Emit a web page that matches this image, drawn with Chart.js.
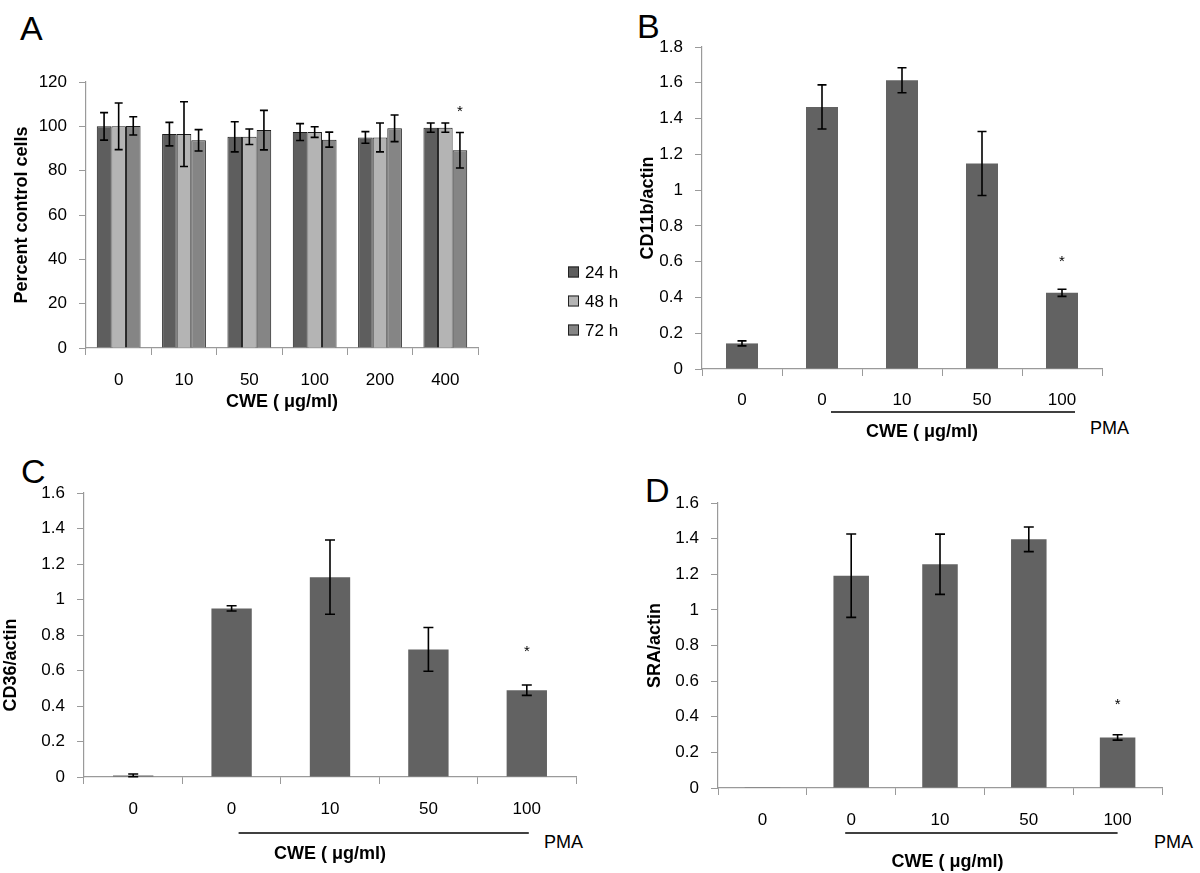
<!DOCTYPE html>
<html>
<head>
<meta charset="utf-8">
<script src="https://cdn.jsdelivr.net/npm/chart.js@4.4.1/dist/chart.umd.min.js"></script>
<style>
  html, body { margin: 0; padding: 0; background: #fff; }
  body { width: 1200px; height: 873px; position: relative; overflow: hidden;
         font-family: "Liberation Sans", Arial, sans-serif; }
  canvas { position: absolute; }
  .letter { position: absolute; font-size: 34px; line-height: 1; color: #000; }
  .pma { position: absolute; font-size: 18px; line-height: 1; color: #000; }
</style>
</head>
<body>
<div class="letter" style="left:20px;top:11px">A</div>
<div class="letter" style="left:637px;top:9px">B</div>
<div class="letter" style="left:21px;top:454px">C</div>
<div class="letter" style="left:645px;top:473px">D</div>
<div class="pma" style="left:1090px;top:419px">PMA</div>
<div class="pma" style="left:544px;top:833px">PMA</div>
<div class="pma" style="left:1154px;top:833px">PMA</div>

<canvas id="chartA" width="640" height="450" style="left:0;top:0"></canvas>
<canvas id="chartB" width="600" height="450" style="left:600px;top:0"></canvas>
<canvas id="chartC" width="600" height="433" style="left:0;top:440px"></canvas>
<canvas id="chartD" width="600" height="433" style="left:600px;top:440px"></canvas>

<script>
// ---- data ----
const doseA = ["0", "10", "50", "100", "200", "400"];
const viability24h = [100, 96.5, 95.3, 97.4, 95.0, 99.4];
const viability24hErr = [6.2, 5.3, 6.8, 3.8, 2.6, 2.1];
const viability48h = [100, 96.5, 95.3, 97.4, 95.0, 99.4];
const viability48hErr = [10.5, 14.6, 3.5, 2.4, 6.5, 2.1];
const viability72h = [100.2, 93.7, 98.3, 94.0, 99.1, 89.2];
const viability72hErr = [4.1, 4.8, 8.9, 3.4, 6.0, 8.0];
const viabilityStar72h = [null, null, null, null, null, 108.6];

const doseMarkers = ["0", "0", "10", "50", "100"];

const cd11b = [0.143, 1.465, 1.614, 1.149, 0.426];
const cd11bErr = [0.014, 0.123, 0.07, 0.179, 0.02];
const cd11bStar = [null, null, null, null, 0.626];

const cd36 = [0.009, 0.95, 1.126, 0.719, 0.489];
const cd36Err = [0.008, 0.015, 0.209, 0.123, 0.029];
const cd36Star = [null, null, null, null, 0.73];

const sra = [0.004, 1.192, 1.256, 1.396, 0.284];
const sraErr = [0, 0.234, 0.169, 0.069, 0.015];
const sraStar = [null, null, null, null, 0.49];

const xTitle = "CWE ( \u03bcg/ml)";

Chart.defaults.font.family = '"Liberation Sans", Arial, sans-serif';
Chart.defaults.color = "#000";

const AXIS_GREY = "#9a9a9a";

// error bars + significance stars, positioned through the y scale
const errorBarPlugin = {
  id: "errorBars",
  afterDatasetsDraw(chart, args, opts) {
    const { ctx } = chart;
    const yScale = chart.scales.y;
    chart.data.datasets.forEach((ds, di) => {
      const meta = chart.getDatasetMeta(di);
      ctx.save();
      ctx.strokeStyle = "#000";
      ctx.lineWidth = 1.6;
      meta.data.forEach((bar, i) => {
        const err = ds.errorBars ? ds.errorBars[i] : 0;
        if (err) {
          const v = ds.data[i];
          const top = yScale.getPixelForValue(v + err);
          const bot = yScale.getPixelForValue(v - err);
          const half = opts.cap / 2;
          ctx.beginPath();
          ctx.moveTo(bar.x, top);
          ctx.lineTo(bar.x, bot);
          ctx.moveTo(bar.x - half, top);
          ctx.lineTo(bar.x + half, top);
          ctx.moveTo(bar.x - half, bot);
          ctx.lineTo(bar.x + half, bot);
          ctx.stroke();
        }
        const star = ds.stars ? ds.stars[i] : null;
        if (star != null) {
          ctx.fillStyle = "#000";
          ctx.font = '15px "Liberation Sans", Arial, sans-serif';
          ctx.textAlign = "center";
          ctx.textBaseline = "alphabetic";
          ctx.fillText("*", bar.x, yScale.getPixelForValue(star) + 8.5);
        }
      });
      ctx.restore();
    });
  },
};

// line under the PMA-treated groups
const groupLinePlugin = {
  id: "groupLine",
  afterDraw(chart, args, opts) {
    if (!opts || opts.from == null) return;
    const { ctx } = chart;
    const x = chart.scales.x;
    const y = chart.chartArea.bottom + opts.below;
    ctx.save();
    ctx.strokeStyle = "#000";
    ctx.lineWidth = 1.3;
    ctx.beginPath();
    ctx.moveTo(x.getPixelForValue(opts.from) + opts.dxFrom, y);
    ctx.lineTo(x.getPixelForValue(opts.to) + opts.dxTo, y);
    ctx.stroke();
    ctx.restore();
  },
};

// legend for panel A, drawn to the right of the plot
const sideLegendPlugin = {
  id: "sideLegend",
  afterDraw(chart, args, opts) {
    if (!opts || opts.left == null) return;
    const { ctx } = chart;
    ctx.save();
    ctx.font = '17px "Liberation Sans", Arial, sans-serif';
    ctx.textBaseline = "middle";
    ctx.textAlign = "left";
    chart.data.datasets.forEach((ds, i) => {
      const cy = opts.top + i * opts.gap;
      ctx.fillStyle = ds.backgroundColor;
      ctx.fillRect(opts.left, cy - 5.5, 11, 11);
      ctx.strokeStyle = "#222";
      ctx.lineWidth = 1;
      ctx.strokeRect(opts.left + 0.5, cy - 5, 10, 10);
      ctx.fillStyle = "#000";
      ctx.fillText(ds.label, opts.left + 17, cy + 1);
    });
    ctx.restore();
  },
};

function buildChart(id, p) {
  const c = p.canvas;
  const plot = p.plot;
  const xH = p.xTitleY + 10.8 - plot.b;
  const tickPad = p.xLabelY - plot.b - 7 - 10.2;

  return new Chart(document.getElementById(id), {
    type: "bar",
    data: { labels: p.labels, datasets: p.datasets },
    options: {
      responsive: false,
      animation: false,
      devicePixelRatio: 1,
      layout: {
        padding: {
          left: 0,
          top: plot.t - c.y,
          right: c.x + c.w - plot.r,
          bottom: c.y + c.h - plot.b - xH,
        },
      },
      datasets: {
        bar: {
          categoryPercentage: p.categoryPercentage,
          barPercentage: p.barPercentage,
        },
      },
      scales: {
        x: {
          afterFit: (s) => { s.height = xH; },
          grid: { drawOnChartArea: false, tickLength: 7, color: AXIS_GREY, offset: true },
          border: { color: AXIS_GREY, width: 1.2 },
          ticks: { padding: tickPad, font: { size: 17 }, color: "#000" },
          title: {
            display: true,
            text: p.xTitle || xTitle,
            font: { size: 18, weight: "bold" },
            padding: { top: 0, bottom: 0 },
            color: "#000",
          },
        },
        y: {
          afterFit: (s) => { s.width = plot.l - c.x; },
          min: 0,
          max: p.yMax,
          grid: { drawOnChartArea: false, tickLength: 7, color: AXIS_GREY },
          border: { color: AXIS_GREY, width: 1.2 },
          ticks: {
            stepSize: p.yStep,
            padding: 12,
            font: { size: 17 },
            color: "#000",
            callback: (v) => String(Number(v.toFixed(1))),
          },
          title: {
            display: true,
            text: p.yTitle,
            font: { size: 18, weight: "bold" },
            padding: { top: p.yTitleX - c.x - 10.8, bottom: 0 },
            color: "#000",
          },
        },
      },
      plugins: {
        legend: { display: false },
        tooltip: { enabled: false },
        errorBars: { cap: p.cap },
        groupLine: p.groupLine || {},
        sideLegend: p.sideLegend || {},
      },
    },
    plugins: [errorBarPlugin, groupLinePlugin, sideLegendPlugin],
  });
}

function singleBar(values, errors, stars) {
  return [{
    label: "ratio",
    data: values,
    errorBars: errors,
    stars: stars,
    backgroundColor: "#626262",
    borderWidth: 0,
  }];
}

buildChart("chartA", {
  canvas: { x: 0, y: 0, w: 640, h: 450 },
  plot: { l: 86, t: 82, r: 478, b: 348 },
  xLabelY: 380, xTitleY: 402, yTitleX: 22,
  labels: doseA,
  yMax: 120, yStep: 20, yTitle: "Percent control cells",
  categoryPercentage: 0.67, barPercentage: 1.0, cap: 8,
  datasets: [
    { label: "24 h", data: viability24h, errorBars: viability24hErr,
      backgroundColor: "#5e5e5e", borderColor: "#1c1c1c", borderWidth: 1 },
    { label: "48 h", data: viability48h, errorBars: viability48hErr,
      backgroundColor: "#b4b4b4", borderColor: "#1c1c1c", borderWidth: 1 },
    { label: "72 h", data: viability72h, errorBars: viability72hErr, stars: viabilityStar72h,
      backgroundColor: "#858585", borderColor: "#1c1c1c", borderWidth: 1 },
  ],
  sideLegend: { left: 568, top: 272, gap: 29 },
});

// leading spaces nudge the centred axis title to the right, as in the figure
buildChart("chartB", {
  canvas: { x: 600, y: 0, w: 600, h: 450 },
  plot: { l: 702, t: 47, r: 1102, b: 369 },
  xLabelY: 400, xTitleY: 432, yTitleX: 648,
  labels: doseMarkers,
  xTitle: "        " + xTitle,
  yMax: 1.8, yStep: 0.2, yTitle: "CD11b/actin",
  categoryPercentage: 1, barPercentage: 0.4, cap: 9,
  datasets: singleBar(cd11b, cd11bErr, cd11bStar),
  groupLine: { from: 1, to: 4, dxFrom: 9, dxTo: 13, below: 43 },
});

buildChart("chartC", {
  canvas: { x: 0, y: 440, w: 600, h: 433 },
  plot: { l: 84, t: 493, r: 576, b: 777 },
  xLabelY: 809, xTitleY: 854, yTitleX: 11,
  labels: doseMarkers,
  // trailing spaces push the rotated title toward the bottom
  yMax: 1.6, yStep: 0.2, yTitle: "CD36/actin            ",
  categoryPercentage: 1, barPercentage: 0.41, cap: 10,
  datasets: singleBar(cd36, cd36Err, cd36Star),
  groupLine: { from: 1, to: 4, dxFrom: 7, dxTo: 2, below: 56 },
});

buildChart("chartD", {
  canvas: { x: 600, y: 440, w: 600, h: 433 },
  plot: { l: 718, t: 503, r: 1162, b: 788 },
  xLabelY: 820, xTitleY: 862, yTitleX: 655,
  labels: doseMarkers,
  xTitle: "   " + xTitle,
  yMax: 1.6, yStep: 0.2, yTitle: "SRA/actin",
  categoryPercentage: 1, barPercentage: 0.4, cap: 10,
  datasets: singleBar(sra, sraErr, sraStar),
  groupLine: { from: 1, to: 4, dxFrom: -6, dxTo: 0, below: 45 },
});
</script>
</body>
</html>
